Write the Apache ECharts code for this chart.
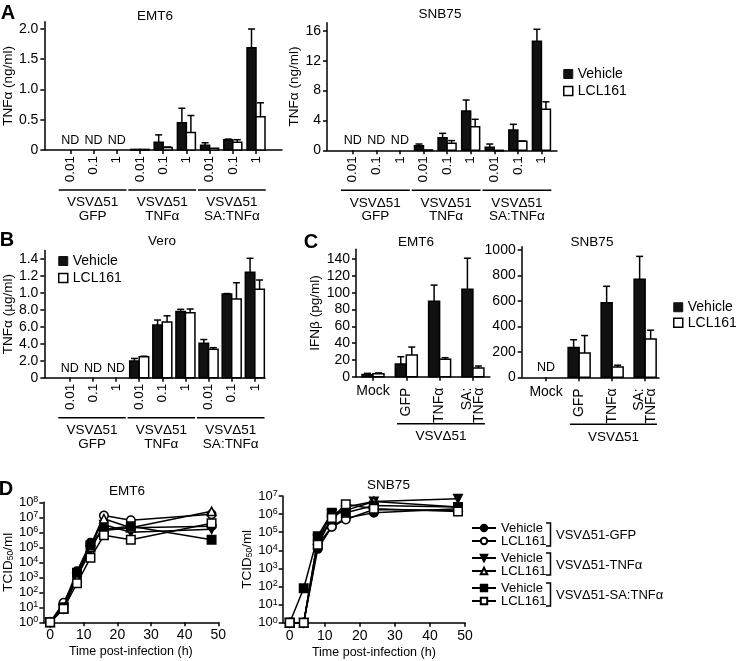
<!DOCTYPE html>
<html><head><meta charset="utf-8">
<script src="https://cdn.jsdelivr.net/npm/echarts@6/dist/echarts.min.js"></script>
<style>html,body{margin:0;padding:0;background:#fff}#c{width:736px;height:661px}</style>
</head><body><div id="c"></div>
<script>
const FONT = '"Liberation Sans", Arial, Helvetica, sans-serif';

// ---------- DATA ----------
const doseLabels = ['0.01','0.1','1','0.01','0.1','1','0.01','0.1','1'];
const virusGroups = ['VSVΔ51\nGFP','VSVΔ51\nTNFα','VSVΔ51\nSA:TNFα'];

// Panel A EMT6 TNFα (ng/ml)
const aEmt6Vehicle    = [null,null,null,0.01,0.13,0.45,0.08,0.17,1.69];
const aEmt6VehicleErr = [null,null,null,0,0.12,0.24,0.04,0.01,0.31];
const aEmt6Lcl        = [null,null,null,0.01,0.04,0.29,0.03,0.13,0.55];
const aEmt6LclErr     = [null,null,null,0,0.01,0.28,0,0.04,0.23];
const aEmt6Ticks = [0,0.5,1,1.5,2];
const aEmt6TickLabels = ['0','0.5','1.0','1.5','2.0'];

// Panel A SNB75 TNFα (ng/ml)
const aSnbVehicle    = [null,null,null,0.62,1.69,5.26,0.40,2.72,14.6];
const aSnbVehicleErr = [null,null,null,0.22,0.58,1.47,0.44,0.76,1.6];
const aSnbLcl        = [null,null,null,0.05,0.93,3.16,0,1.20,5.49];
const aSnbLclErr     = [null,null,null,0,0.37,0.99,0,0.05,1.0];
const aSnbTicks = [0,4,8,12,16];
const aSnbTickLabels = ['0','4','8','12','16'];

// Panel B Vero TNFα (µg/ml)
const bVehicle    = [null,null,null,0.197,0.62,0.78,0.405,0.987,1.243];
const bVehicleErr = [null,null,null,0.03,0.06,0.026,0.045,0.005,0.165];
const bLcl        = [null,null,null,0.248,0.657,0.767,0.335,0.928,1.042];
const bLclErr     = [null,null,null,0.005,0.073,0.043,0.019,0.192,0.11];
const bTicks = [0,0.2,0.4,0.6,0.8,1.0,1.2,1.4];
const bTickLabels = ['0','2.0','4.0','6.0','8.0','1.0','1.2','1.4'];

// Panel C IFNβ (pg/ml)
const cCats = ['Mock','GFP','TNFα','SA:\nTNFα'];
const cEmt6Vehicle    = [2.5,15.1,89.7,104];
const cEmt6VehicleErr = [1.5,8.7,19.3,37];
const cEmt6Lcl        = [3.5,25.8,20.7,10.4];
const cEmt6LclErr     = [1,9.5,1.9,2.3];
const cEmt6Ticks = [0,20,40,60,80,100,120,140];
const cSnbVehicle    = [null,235,585,770];
const cSnbVehicleErr = [null,60,130,180];
const cSnbLcl        = [null,190,80,300];
const cSnbLclErr     = [null,138,15,70];
const cSnbTicks = [0,200,400,600,800,1000];

// Panel D TCID50/ml
const dTimes = [0,4,8,12,16,24,48];
const dSeriesNames = ['Vehicle (GFP)','LCL161 (GFP)','Vehicle (TNF)','LCL161 (TNF)','Vehicle (SA)','LCL161 (SA)'];
const dEmt6 = [
  [1,14,2.5e3,2.0e5,1.3e6,2.0e6,2.5e6],
  [1,20,1.3e3,1.3e5,1.3e7,6.3e6,1.6e7],
  [1,8,1.0e3,6.3e4,3.2e6,1.0e6,1.6e6],
  [1,8,1.0e3,1.0e5,8.0e6,2.0e6,2.5e7],
  [1,10,2.0e3,1.3e5,1.6e6,2.5e6,3.2e5],
  [1,8,4.0e2,2.0e4,6.3e5,3.2e5,4.0e6]
];
const dSnb = [
  [1,1,1.2e4,2.0e5,6.0e5,1.2e6,2.0e6],
  [1,1,2.0e4,2.0e5,5.0e5,1.8e6,1.6e6],
  [1,1,4.0e4,1.0e6,1.6e6,5.0e6,7.0e6],
  [1,1,4.0e4,5.0e5,2.5e6,5.0e6,2.5e6],
  [1,8.0e1,6.0e4,1.2e6,1.2e6,3.0e6,2.5e6],
  [1,1,2.0e4,6.0e5,3.5e6,2.0e6,1.4e6]
];
const dEmt6YTicks = [1,1e1,1e2,1e3,1e4,1e5,1e6,1e7,1e8];
const dSnbYTicks = [1,1e1,1e2,1e3,1e4,1e5,1e6,1e7];
const dXTicks = [0,10,20,30,40,50];

// ---------- BUILD ----------
const option = {animation:false, backgroundColor:'#fff', textStyle:{fontFamily:FONT},
  grid:[], xAxis:[], yAxis:[], series:[], legend:[], graphic:[]};
const LS = {color:'#000', width:1.5};

function addGrid(g){ option.grid.push(Object.assign({}, g)); return option.grid.length-1; }

function barSeries(name, vals, errs, side, fill, xi, yi, bw){
  const data = [];
  vals.forEach((v,i)=>{ if(v!==null) data.push([i, v, errs[i]||0]); });
  return {type:'custom', name, xAxisIndex:xi, yAxisIndex:yi, clip:false, data,
    encode:{x:0,y:1}, itemStyle:{color:fill, borderColor:'#000', borderWidth:1.5},
    renderItem:(params, api)=>{
      const x = api.value(0), v = api.value(1), e = api.value(2);
      const p0 = api.coord([x,0]), p1 = api.coord([x,v]), pe = api.coord([x,v+e]);
      const left = side<0 ? p0[0]-bw : p0[0];
      const cx = left + bw/2;
      const ch = [];
      if (e>0){
        ch.push({type:'line', shape:{x1:cx,y1:p1[1],x2:cx,y2:pe[1]}, style:{stroke:'#000',lineWidth:1.5}});
        ch.push({type:'line', shape:{x1:cx-3.5,y1:pe[1],x2:cx+3.5,y2:pe[1]}, style:{stroke:'#000',lineWidth:1.5}});
      }
      ch.push({type:'rect', shape:{x:left,y:p1[1],width:bw,height:Math.max(p0[1]-p1[1],0.5)},
        style:{fill:fill, stroke:'#000', lineWidth:1.5}});
      return {type:'group', children:ch};
    }};
}

function barPanel(p){
  const gi = addGrid(p.grid);
  const xi = option.xAxis.length, yi = option.yAxis.length;
  const idx = p.cats.map((c,i)=>i);
  option.xAxis.push({type:'value', gridIndex:gi, position:'bottom', min:p.xMin, max:p.xMax,
    axisLine:{onZero:false, lineStyle:LS},
    axisTick:{show:true, length:4, customValues:idx, lineStyle:LS},
    axisLabel:{customValues:p.labelIdx||idx, rotate:p.rotate, margin:p.labelMargin, fontSize:p.xFont||13.5,
      fontFamily:FONT, color:'#000', lineHeight:p.xLineHeight||15, formatter:v=>p.cats[Math.round(v)]},
    splitLine:{show:false}});
  if (p.labelIdx2){
    option.xAxis.push({type:'value', gridIndex:gi, position:'bottom', offset:0, min:p.xMin, max:p.xMax,
      axisLine:{show:false, onZero:false}, axisTick:{show:false},
      axisLabel:{customValues:p.labelIdx2, rotate:90, margin:p.labelMargin2, fontSize:14,
        fontFamily:FONT, color:'#000', lineHeight:12, formatter:v=>p.cats[Math.round(v)]},
      splitLine:{show:false}});
  }
  option.yAxis.push({type:'value', gridIndex:gi, position:'left', min:0, max:p.yMax,
    name:p.yName||'', nameLocation:'middle', nameGap:p.nameGap||0,
    nameTextStyle:{fontFamily:FONT, fontSize:13.5, color:'#000'},
    axisLine:{show:true, onZero:false, lineStyle:LS},
    axisTick:{show:true, length:4, customValues:p.yTicks, lineStyle:LS},
    axisLabel:{customValues:p.yTicks, margin:6, fontSize:14, fontFamily:FONT, color:'#000',
      formatter:v=>p.yTickLabels[p.yTicks.findIndex(t=>Math.abs(t-v)<1e-6)]},
    splitLine:{show:false}});
  option.series.push(barSeries('Vehicle', p.vehicle, p.vehicleErr, -1, '#111', xi, yi, p.bw));
  option.series.push(barSeries('LCL161', p.lcl, p.lclErr, 1, '#fff', xi, yi, p.bw));
  const nd = [];
  p.vehicle.forEach((v,i)=>{ if(v===null) nd.push([i,0]); });
  if (nd.length) option.series.push({type:'custom', xAxisIndex:xi, yAxisIndex:yi, clip:false, silent:true,
    data:nd, encode:{x:0,y:1}, renderItem:(params,api)=>{
      const c = api.coord([api.value(0),0]);
      return {type:'text', style:{text:'ND', x:c[0], y:c[1]-3, align:'center', verticalAlign:'bottom',
        textAlign:'center', textVerticalAlign:'bottom', font:'12.5px '+FONT, fill:'#000'}};
    }});
  if (p.groups) option.series.push({type:'custom', xAxisIndex:xi, yAxisIndex:yi, clip:false, silent:true,
    data:p.groups.map((g,k)=>[g[0],g[1],k]), encode:{x:[0,1]}, renderItem:(params,api)=>{
      const a = api.coord([api.value(0),0]), b = api.coord([api.value(1),0]);
      const band = api.size([1,0])[0];
      const x1 = a[0]-p.gPadL*band, x2 = b[0]+p.gPadR*band, y = a[1]+p.gLineOff;
      return {type:'group', children:[
        {type:'line', shape:{x1,y1:y,x2,y2:y}, style:{stroke:'#000', lineWidth:1.5}},
        {type:'text', style:{text:p.groupNames[api.value(2)], x:(x1+x2)/2, y:y+p.gTextOff,
          align:'center', verticalAlign:'top', textAlign:'center', textVerticalAlign:'top',
          font:'13.5px '+FONT, lineHeight:13.5, fill:'#000'}}]};
    }});
}

barPanel({grid:{left:44, top:21.7, width:238, height:128.3}, xMin:-1.12, xMax:9.12,
  cats:doseLabels, rotate:90, labelMargin:6, yMax:2.12, yTicks:aEmt6Ticks, yTickLabels:aEmt6TickLabels,
  yName:'TNFα (ng/ml)', nameGap:27, vehicle:aEmt6Vehicle, vehicleErr:aEmt6VehicleErr, lcl:aEmt6Lcl, lclErr:aEmt6LclErr,
  bw:9, groups:[[0,2],[3,5],[6,8]], groupNames:virusGroups, gPadL:0.5, gPadR:0.42, gLineOff:40, gTextOff:6});

barPanel({grid:{left:327, top:22.7, width:230, height:127.6}, xMin:-1.09, xMax:8.66,
  cats:doseLabels, rotate:90, labelMargin:6, yMax:17.08, yTicks:aSnbTicks, yTickLabels:aSnbTickLabels,
  yName:'TNFα (ng/ml)', nameGap:22, vehicle:aSnbVehicle, vehicleErr:aSnbVehicleErr, lcl:aSnbLcl, lclErr:aSnbLclErr,
  bw:9, groups:[[0,2],[3,5],[6,8]], groupNames:virusGroups, gPadL:0.5, gPadR:0.42, gLineOff:40, gTextOff:6});

barPanel({grid:{left:42.7, top:250.5, width:222.3, height:127.2}, xMin:-1.1, xMax:8.44,
  cats:doseLabels, rotate:90, labelMargin:6, yMax:1.5, yTicks:bTicks, yTickLabels:bTickLabels,
  yName:'TNFα (µg/ml)', nameGap:25, vehicle:bVehicle, vehicleErr:bVehicleErr, lcl:bLcl, lclErr:bLclErr,
  bw:9.5, groups:[[0,2],[3,5],[6,8]], groupNames:virusGroups, gPadL:0.5, gPadR:0.42, gLineOff:40, gTextOff:6});

barPanel({grid:{left:356, top:249.3, width:133.9, height:127.4}, xMin:-0.51, xMax:3.51,
  cats:cCats, labelIdx:[0], labelIdx2:[1,2,3], rotate:0, labelMargin:7, labelMargin2:11, xFont:14,
  yMax:151.6, yTicks:cEmt6Ticks, yTickLabels:cEmt6Ticks.map(String),
  yName:'IFNβ (pg/ml)', nameGap:30, vehicle:cEmt6Vehicle, vehicleErr:cEmt6VehicleErr, lcl:cEmt6Lcl, lclErr:cEmt6LclErr,
  bw:11, groups:[[1,3]], groupNames:['VSVΔ51'], gPadL:0.28, gPadR:0.36, gLineOff:47, gTextOff:6});

barPanel({grid:{left:521.7, top:246.7, width:137.3, height:130.6}, xMin:-0.74, xMax:3.42,
  cats:cCats, labelIdx:[0], labelIdx2:[1,2,3], rotate:0, labelMargin:7, labelMargin2:11, xFont:14,
  yMax:1026, yTicks:cSnbTicks, yTickLabels:cSnbTicks.map(String),
  vehicle:cSnbVehicle, vehicleErr:cSnbVehicleErr, lcl:cSnbLcl, lclErr:cSnbLclErr,
  bw:11, groups:[[1,3]], groupNames:['VSVΔ51'], gPadL:0.28, gPadR:0.36, gLineOff:47, gTextOff:6});

// Panel D
const dStyles = [
  {symbol:'circle', fill:'#000'}, {symbol:'circle', fill:'#fff'},
  {symbol:'triangle', rotate:180, fill:'#000'}, {symbol:'triangle', fill:'#fff'},
  {symbol:'rect', fill:'#000'}, {symbol:'rect', fill:'#fff'}];

function linePanel(p){
  const gi = addGrid(p.grid);
  const xi = option.xAxis.length, yi = option.yAxis.length;
  option.xAxis.push({type:'value', gridIndex:gi, position:'bottom', min:-2, max:50,
    name:'Time post-infection (h)', nameLocation:'middle', nameGap:23,
    nameTextStyle:{fontFamily:FONT, fontSize:12.5, color:'#000'},
    axisLine:{onZero:false, lineStyle:LS},
    axisTick:{length:4, customValues:dXTicks, lineStyle:LS},
    axisLabel:{customValues:dXTicks, margin:6, fontSize:14, fontFamily:FONT, color:'#000'},
    splitLine:{show:false}});
  option.yAxis.push({type:'log', logBase:10, gridIndex:gi, position:'left', min:1, max:p.yMax, splitNumber:p.yTicks.length-1,
    name:'TCID{s|50}/ml', nameLocation:'middle', nameGap:p.nameGap,
    nameTextStyle:{fontFamily:FONT, fontSize:13.5, color:'#000', rich:{s:{fontSize:8.5, fontFamily:FONT, verticalAlign:'bottom', padding:[4,0,0,0]}}},
    axisLine:{show:true, onZero:false, lineStyle:LS},
    axisTick:{length:4, customValues:p.yTicks, lineStyle:LS},
    axisLabel:{customValues:p.yTicks, margin:5, fontSize:13, fontFamily:FONT, color:'#000',
      formatter:v=>'10{s|'+Math.round(Math.log10(v))+'}',
      rich:{s:{fontSize:9, fontFamily:FONT, verticalAlign:'top', padding:[0,0,5,0]}}},
    splitLine:{show:false}});
  p.data.forEach((arr,k)=>{
    const st = dStyles[k];
    option.series.push({type:'line', name:dSeriesNames[k], xAxisIndex:xi, yAxisIndex:yi,
      data:dTimes.map((t,i)=>[t,arr[i]]), symbol:st.symbol, symbolRotate:st.rotate||0, symbolSize:8.5,
      showAllSymbol:true, lineStyle:{color:'#000', width:1.5},
      itemStyle:{color:st.fill, borderColor:'#000', borderWidth:1.5}, z:3+k});
  });
}
linePanel({grid:{left:42.3, top:502.3, width:176, height:120}, yMax:1e8, yTicks:dEmt6YTicks, data:dEmt6, nameGap:24});
linePanel({grid:{left:282.7, top:496, width:182.3, height:126.7}, yMax:1e7, yTicks:dSnbYTicks, data:dSnb, nameGap:17});

// Legends
function barLegend(left, top, lh){
  return {left, top, orient:'vertical', padding:0, itemGap:0, itemWidth:9, itemHeight:9, icon:'rect',
    selectedMode:false, textStyle:{fontFamily:FONT, fontSize:14, color:'#000', lineHeight:lh},
    data:[{name:'Vehicle', itemStyle:{color:'#111', borderColor:'#111', borderWidth:1}},
          {name:'LCL161', itemStyle:{color:'#fff', borderColor:'#000', borderWidth:1.5}}]};
}
option.legend.push(barLegend(563, 65.5, 17));
option.legend.push(barLegend(58, 252.5, 17));
option.legend.push(barLegend(673, 299.5, 15.5));
[[0,521.5],[2,551.5],[4,581.5]].forEach(([k,top])=>{
  option.legend.push({left:471, top, orient:'vertical', padding:0, itemGap:0, itemWidth:24, itemHeight:8,
    selectedMode:false, textStyle:{fontFamily:FONT, fontSize:13, color:'#000', lineHeight:10.5},
    formatter:n=>n.split(' ')[0], data:[dSeriesNames[k], dSeriesNames[k+1]]});
});

// Text annotations
function txt(x,y,text,size,bold){
  return {type:'text', x, y, style:{text, font:(bold?'bold ':'')+size+'px '+FONT, fill:'#000',
    textAlign:'center', textVerticalAlign:'middle', align:'center', verticalAlign:'middle'}};
}
option.graphic.push(
  txt(8,13.5,'A',20,true), txt(7,240,'B',20,true), txt(311,242.5,'C',20,true), txt(6,489.5,'D',20,true),
  txt(155,16,'EMT6',13.5), txt(440,14,'SNB75',13.5), txt(162,241,'Vero',13.5),
  txt(416,242.7,'EMT6',13.5), txt(592,242.7,'SNB75',13.5),
  txt(127,491.7,'EMT6',13.5), txt(388.5,485,'SNB75',13.5)
);
[[523,546,535,'VSVΔ51-GFP'],[553,575,565,'VSVΔ51-TNFα'],[583,606,595,'VSVΔ51-SA:TNFα']].forEach(([y1,y2,yc,t])=>{
  option.graphic.push({type:'polyline', shape:{points:[[546,y1],[550.5,y1],[550.5,y2],[546,y2]]},
    style:{stroke:'#000', lineWidth:1.5, fill:null}});
  option.graphic.push({type:'text', x:556, y:yc, style:{text:t, font:'13px '+FONT, fill:'#000',
    textAlign:'left', textVerticalAlign:'middle', align:'left', verticalAlign:'middle'}});
});

const chart = echarts.init(document.getElementById('c'), null, {renderer:'canvas'});
chart.setOption(option);
</script>
</body></html>
